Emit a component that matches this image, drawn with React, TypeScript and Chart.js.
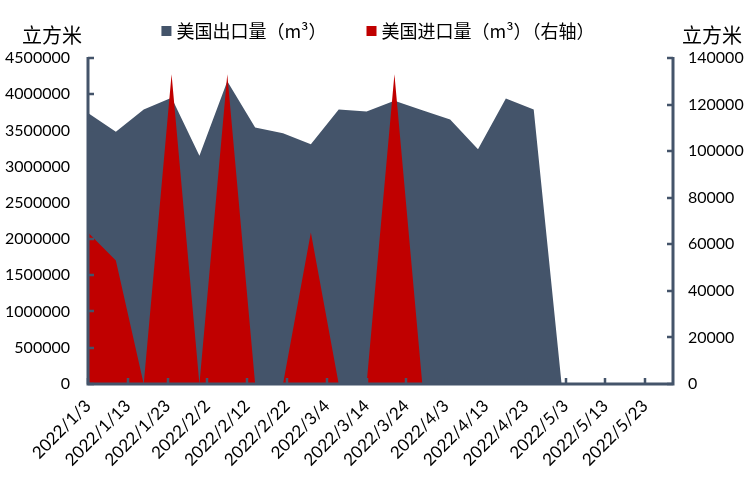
import React, { useEffect, useRef } from "react";
import { Chart, registerables } from "chart.js";
Chart.register(...registerables);

const dates = [
  "2022/1/3", "2022/1/10", "2022/1/17", "2022/1/24", "2022/1/31", "2022/2/7",
  "2022/2/14", "2022/2/21", "2022/2/28", "2022/3/7", "2022/3/14", "2022/3/21",
  "2022/3/28", "2022/4/4", "2022/4/11", "2022/4/18", "2022/4/25", "2022/5/2",
  "2022/5/9", "2022/5/16", "2022/5/23", "2022/5/30",
];
const exportVolume = [
  3740000, 3480000, 3790000, 3950000, 3150000, 4180000, 3540000, 3460000,
  3310000, 3790000, 3760000, 3910000, 3780000, 3650000, 3240000, 3940000,
  3790000, 0, 0, 0, 0, 0,
];
const importVolume = [
  65000, 53000, 0, 133000, 0, 133000, 0, 0, 65000, 0, 0, 133000, 0, 0, 0, 0,
  0, 0, 0, 0, 0, 0,
];
const xTickLabels = [
  "2022/1/3", "2022/1/13", "2022/1/23", "2022/2/2", "2022/2/12", "2022/2/22",
  "2022/3/4", "2022/3/14", "2022/3/24", "2022/4/3", "2022/4/13", "2022/4/23",
  "2022/5/3", "2022/5/13", "2022/5/23",
];
const seriesNames = ["美国出口量（m³）", "美国进口量（m³）（右轴）"];
const axisTitle = "立方米";

const DARK = "#44546A";
const RED = "#C00000";
const AXIS = "#44546A";
const CJK = "'Noto Sans CJK SC', 'Noto Sans', sans-serif";
const NUM = "Lato, 'Liberation Sans', sans-serif";

function dayOf(s: string): number {
  const [y, m, d] = s.split("/").map(Number);
  return Math.round((Date.UTC(y, m - 1, d) - Date.UTC(2022, 0, 3)) / 86400000);
}
const labelByDay: Record<number, string> = {};
xTickLabels.forEach((s) => (labelByDay[dayOf(s)] = s));

const decorPlugin = {
  id: "decor",
  afterDatasetsDraw(chart: any) {
    const { ctx, chartArea: ca, scales } = chart;
    ctx.save();
    ctx.strokeStyle = AXIS;
    ctx.lineCap = "butt";
    ctx.lineWidth = 2.5;
    ctx.beginPath();
    scales.y.ticks.forEach((t: any) => {
      const py = Math.round(scales.y.getPixelForValue(t.value));
      ctx.moveTo(ca.left, py);
      ctx.lineTo(ca.left + 6, py);
    });
    scales.y1.ticks.forEach((t: any) => {
      const py = Math.round(scales.y1.getPixelForValue(t.value));
      ctx.moveTo(ca.right, py);
      ctx.lineTo(ca.right - 6, py);
    });
    scales.x.ticks.forEach((t: any) => {
      const px = Math.round(scales.x.getPixelForValue(t.value));
      ctx.moveTo(px, ca.bottom);
      ctx.lineTo(px, ca.bottom - 6);
    });
    ctx.stroke();
    ctx.lineWidth = 3;
    ctx.beginPath();
    ctx.moveTo(ca.left, ca.top - 1);
    ctx.lineTo(ca.left, ca.bottom + 1.5);
    ctx.moveTo(ca.left - 1.5, ca.bottom);
    ctx.lineTo(ca.right + 1.5, ca.bottom);
    ctx.moveTo(ca.right, ca.bottom + 1.5);
    ctx.lineTo(ca.right, ca.top - 1);
    ctx.stroke();
    ctx.restore();
  },
  afterDraw(chart: any) {
    const { ctx, chartArea: ca } = chart;
    ctx.save();
    ctx.fillStyle = "#000";
    ctx.font = `20px ${CJK}`;
    ctx.textAlign = "center";
    ctx.textBaseline = "middle";
    ctx.fillText(axisTitle, ca.left - 36, 35);
    ctx.fillText(axisTitle, ca.right + 39, 35);
    ctx.font = `18px ${CJK}`;
    ctx.textAlign = "left";
    const items = chart.data.datasets.map((ds: any) => ({
      text: ds.label,
      color: ds.backgroundColor,
      w: 10 + 5 + ctx.measureText(ds.label).width,
    }));
    const gap = 40;
    const total = items.reduce((a: number, it: any) => a + it.w, 0) + gap * (items.length - 1);
    let x = (chart.width - total) / 2 + 3;
    const cy = 31;
    items.forEach((it: any) => {
      ctx.fillStyle = it.color;
      ctx.fillRect(x, cy - 5, 10, 10);
      ctx.fillStyle = "#000";
      ctx.fillText(it.text, x + 15, cy);
      x += it.w + gap;
    });
    ctx.restore();
  },
};

export default function App() {
  const ref = useRef<HTMLCanvasElement | null>(null);
  useEffect(() => {
    document.body.style.margin = "0";
    if (!ref.current) return;
    const xs = dates.map(dayOf);
    const chart = new Chart(ref.current, {
      type: "line",
      data: {
        datasets: [
          {
            label: seriesNames[0],
            data: xs.map((x, i) => ({ x, y: exportVolume[i] })),
            backgroundColor: DARK,
            borderColor: DARK,
            borderWidth: 0,
            pointRadius: 0,
            fill: "origin",
            tension: 0,
            yAxisID: "y",
            order: 1,
          },
          {
            label: seriesNames[1],
            data: xs.map((x, i) => ({ x, y: importVolume[i] })),
            backgroundColor: RED,
            borderColor: RED,
            borderWidth: 0,
            pointRadius: 0,
            fill: "origin",
            tension: 0,
            yAxisID: "y1",
            order: 0,
          },
        ],
      },
      options: {
        animation: false,
        responsive: false,
        devicePixelRatio: 1,
        layout: { padding: { top: 58, left: 4, right: 6, bottom: 17 } },
        plugins: {
          legend: { display: false },
          tooltip: { enabled: false },
        },
        scales: {
          x: {
            type: "linear",
            min: 0,
            max: dayOf(dates[dates.length - 1]),
            afterBuildTicks: (scale: any) => {
              scale.ticks = xTickLabels.map((s) => ({ value: dayOf(s) }));
            },
            afterFit: (scale: any) => {
              scale.paddingLeft = 0;
              scale.paddingRight = 0;
            },
            ticks: {
              autoSkip: false,
              includeBounds: false,
              maxRotation: 45,
              minRotation: 45,
              padding: 4,
              color: "#000",
              font: { family: NUM, size: 17 },
              callback: (v: any) => labelByDay[Number(v)] ?? "",
            },
            grid: { display: false },
            border: { display: false },
          },
          y: {
            position: "left",
            min: 0,
            max: 4500000,
            afterFit: (scale: any) => {
              scale.width = 84;
            },
            ticks: {
              stepSize: 500000,
              padding: 18,
              color: "#000",
              font: { family: NUM, size: 16 },
              callback: (v: any) => String(v),
            },
            grid: { display: false, drawTicks: false },
            border: { display: false },
          },
          y1: {
            position: "right",
            min: 0,
            max: 140000,
            afterFit: (scale: any) => {
              scale.width = 71;
            },
            ticks: {
              stepSize: 20000,
              padding: 15,
              color: "#000",
              font: { family: NUM, size: 16 },
              callback: (v: any) => String(v),
            },
            grid: { display: false, drawTicks: false },
            border: { display: false },
          },
        },
      },
      plugins: [decorPlugin],
    });
    return () => chart.destroy();
  }, []);
  return (
    <div style={{ width: 750, height: 491 }}>
      <canvas ref={ref} width={750} height={491} />
    </div>
  );
}
